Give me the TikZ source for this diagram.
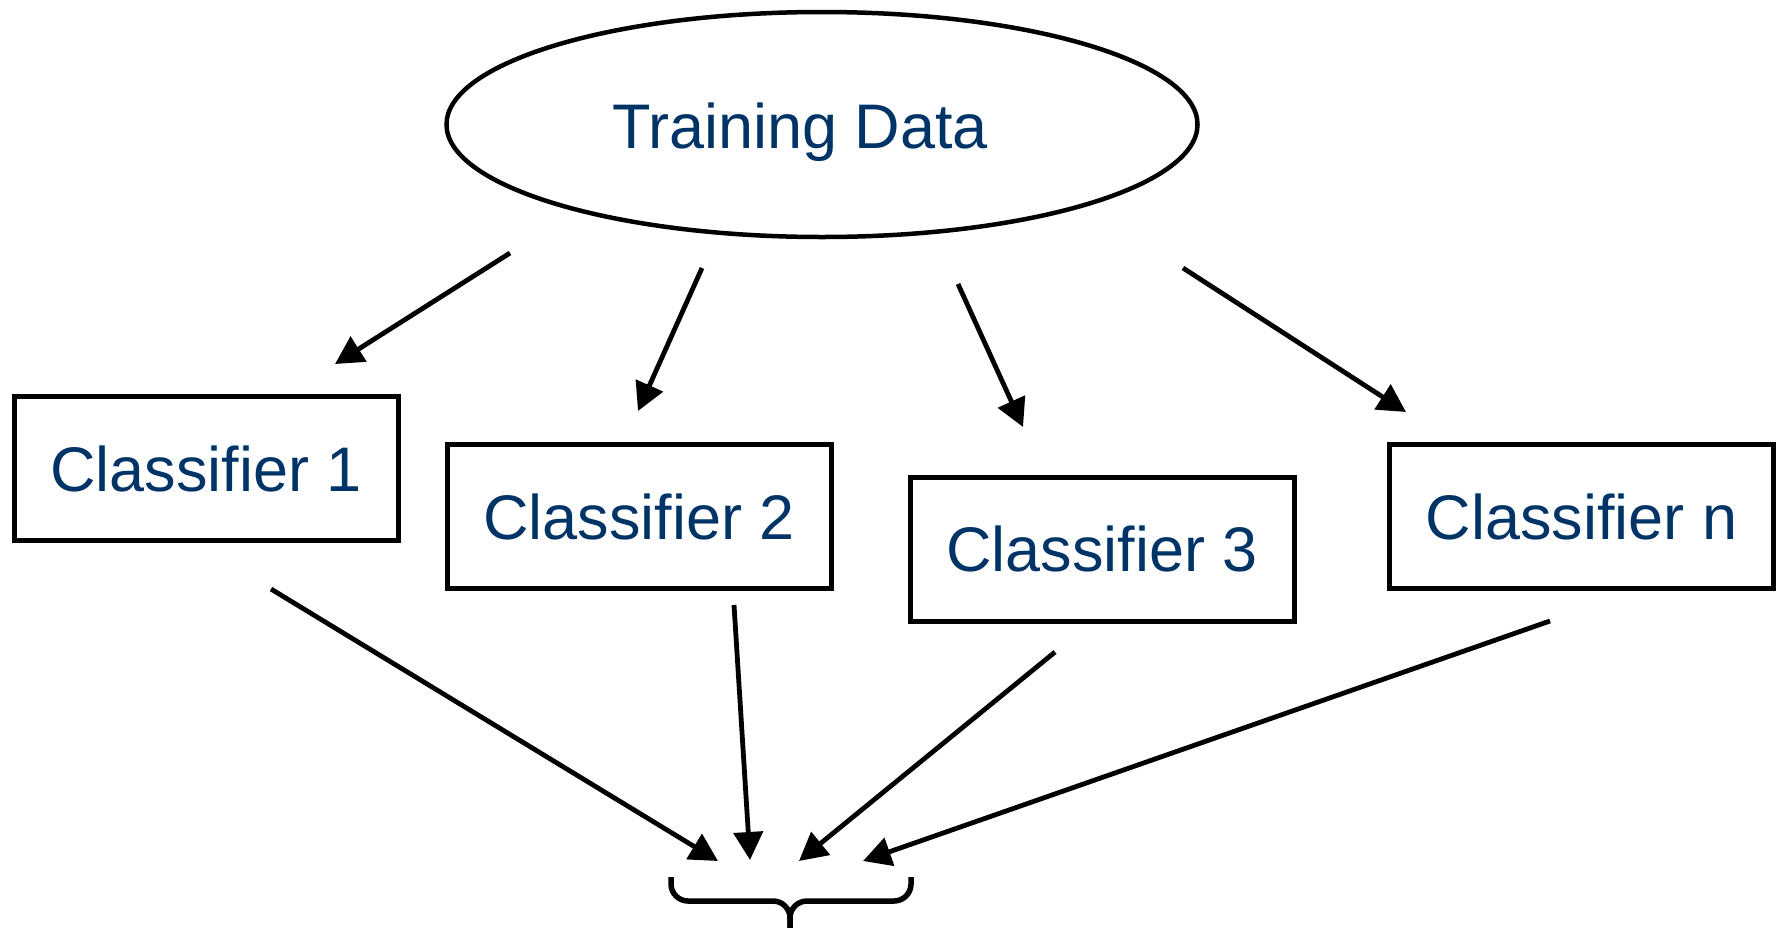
\documentclass[tikz,border=0pt]{standalone}
\usepackage{fontspec}
\setmainfont{Liberation Sans}
\usetikzlibrary{arrows.meta,shapes.geometric}
\definecolor{labelblue}{RGB}{0,51,102}
\tikzset{
  label text/.style={text=labelblue,font=\fontsize{63}{70}\selectfont},
  classbox/.style={draw=black,line width=5pt,minimum width=384pt,minimum height=144pt,inner sep=0pt,label text},
  flow/.style={draw=black,line width=4.8pt,-{Triangle[length=28pt,width=29pt]}},
  bracket/.style={draw=black,line width=5.5pt,rounded corners=17pt}
}
\begin{document}
\begin{tikzpicture}[x=1pt,y=-1pt]
\useasboundingbox (0,0) rectangle (1776,927);

% training data ellipse and its label
\node[draw=black,line width=4.5pt,ellipse,minimum width=751pt,minimum height=225pt,inner sep=0pt] (train) at (822,124.5) {};
\node[label text,anchor=base west,inner sep=0pt] (trainlabel) at (612,148) {Training Data};

% classifiers
\node[classbox] (c1) at (206,468.5) {Classifier 1};
\node[classbox] (c2) at (639,516.5) {Classifier 2};
\node[classbox] (c3) at (1102,549) {Classifier 3};
\node[classbox] (cn) at (1581.5,516.5) {Classifier n};

% arrow end points
\coordinate (a1s) at (510,253);  \coordinate (a1e) at (335,364);
\coordinate (a2s) at (702,268);  \coordinate (a2e) at (638,411);
\coordinate (a3s) at (958,284);  \coordinate (a3e) at (1023,427);
\coordinate (a4s) at (1183,268); \coordinate (a4e) at (1406,412);
\coordinate (b1s) at (271,589);  \coordinate (b1e) at (718,861);
\coordinate (b2s) at (734,605);  \coordinate (b2e) at (750,860);
\coordinate (b3s) at (1055,652); \coordinate (b3e) at (799,861);
\coordinate (b4s) at (1550,621); \coordinate (b4e) at (863,861);

\draw[flow] (a1s) -- (a1e);
\draw[flow] (a2s) -- (a2e);
\draw[flow] (a3s) -- (a3e);
\draw[flow] (a4s) -- (a4e);
\draw[flow] (b1s) -- (b1e);
\draw[flow] (b2s) -- (b2e);
\draw[flow] (b3s) -- (b3e);
\draw[flow] (b4s) -- (b4e);

% combining brace
\coordinate (brl) at (671,877);
\coordinate (brr) at (911,877);
\coordinate (brtip) at (790,930);
\draw[bracket] (brl) -- (671,901) -- (790,901) -- (brtip);
\draw[bracket] (brr) -- (911,901) -- (790,901) -- (brtip);
\end{tikzpicture}
\end{document}
